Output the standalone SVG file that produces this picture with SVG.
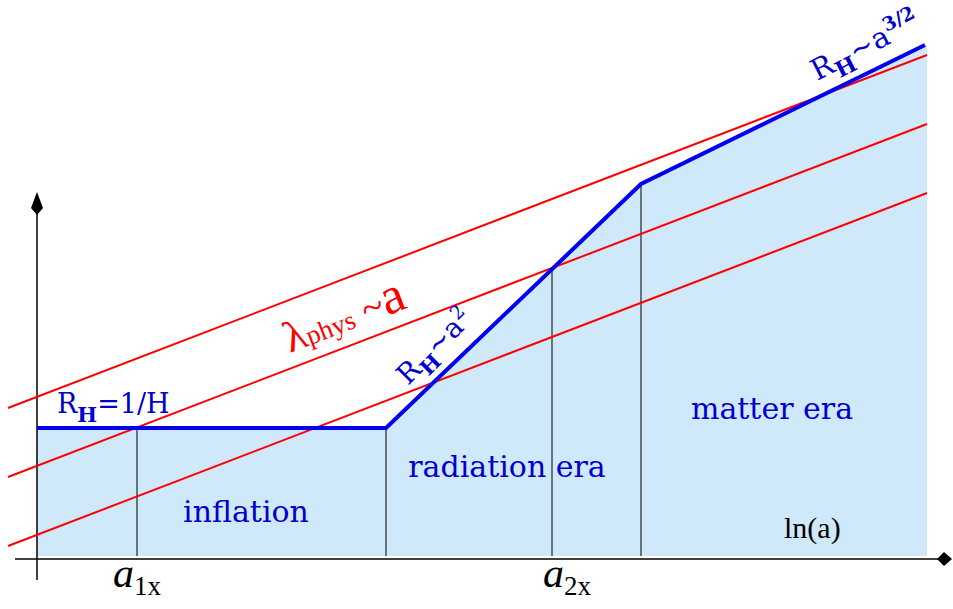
<svg xmlns="http://www.w3.org/2000/svg" width="953" height="609" viewBox="0 0 953 609">
<style>
.red{stroke:#ff0000;stroke-width:2;fill:none}
.blue{stroke:#0000ee;stroke-width:4;fill:none;stroke-linejoin:miter}
.vl{stroke:#333;stroke-width:1.3}
.ax{stroke:#000;stroke-width:1.5}
.era{font-family:"DejaVu Serif",serif;font-size:30px;fill:#0000cc}
.lbl{font-family:"DejaVu Serif",serif;fill:#0000cc}
.tms{font-family:"Liberation Serif","Times New Roman",serif}
</style>
<rect width="953" height="609" fill="#fff"/>
<g id="fill">
<polygon points="37,428 386,428 641,184 927,46 927,556 37,556" fill="#cfe9fb"/>
</g>
<g id="verticals">
<line class="vl" x1="137" y1="428" x2="137" y2="556"/>
<line class="vl" x1="386" y1="428" x2="386" y2="556"/>
<line class="vl" x1="552" y1="268" x2="552" y2="556"/>
<line class="vl" x1="641" y1="184" x2="641" y2="556"/>
</g>
<g id="axes">
<line class="ax" x1="37" y1="580" x2="37" y2="205"/>
<polygon points="37,192 43,208 37,215 31,208" fill="#000"/>
<line class="ax" x1="15" y1="559" x2="940" y2="559"/>
<polygon points="952,559 944,552 937,559 944,566" fill="#000"/>
</g>
<g id="connectors">
<line class="red" x1="8" y1="408" x2="927" y2="55"/>
<line class="red" x1="8" y1="477" x2="927" y2="124"/>
<line class="red" x1="8" y1="546" x2="927" y2="193"/>
<polyline class="blue" points="37,428 386,428 641,184 925,45"/>
</g>
<g id="labels">
<text class="lbl" x="57" y="413" font-size="27">R<tspan font-weight="bold" font-size="21" dy="9">H</tspan><tspan dy="-9">=1/H</tspan></text>
<text class="era" x="246" y="522" text-anchor="middle">inflation</text>
<text class="era" x="507" y="477" text-anchor="middle">radiation era</text>
<text class="era" x="772" y="419" text-anchor="middle">matter era</text>
<text class="tms" x="784" y="538" font-size="30" fill="#000">ln(a)</text>
<text class="tms" x="113" y="587" font-size="42" font-style="italic" fill="#000">a<tspan font-style="normal" font-size="27" dy="8">1x</tspan></text>
<text class="tms" x="543" y="587" font-size="42" font-style="italic" fill="#000">a<tspan font-style="normal" font-size="27" dy="8">2x</tspan></text>
<text class="tms" fill="#ff0000" transform="translate(290,353) rotate(-21)"><tspan font-size="44">λ</tspan><tspan font-size="27">phys</tspan><tspan font-size="40"> ~</tspan><tspan font-size="52">a</tspan></text>
<text class="lbl" font-size="28" transform="translate(408,386) rotate(-45)">R<tspan font-weight="bold" font-size="21" dy="8">H</tspan><tspan dy="-8">~a</tspan><tspan font-size="19" dy="-11">2</tspan></text>
<text class="lbl" font-size="29" transform="translate(817,81) rotate(-27)">R<tspan font-weight="bold" font-size="22" dy="8">H</tspan><tspan dy="-8">~a</tspan><tspan font-size="19" font-weight="bold" dy="-12">3/2</tspan></text>
</g>
</svg>
